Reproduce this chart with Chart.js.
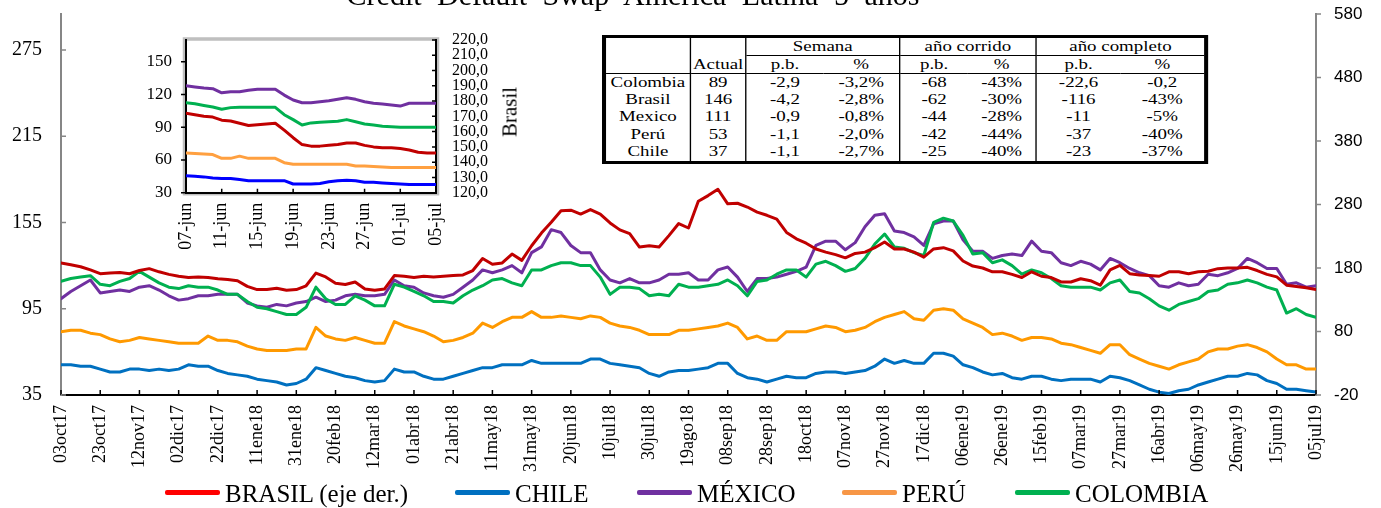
<!DOCTYPE html>
<html>
<head>
<meta charset="utf-8">
<script src="https://cdn.jsdelivr.net/npm/chart.js@4.4.1/dist/chart.umd.min.js"></script>
<style>
  body { margin: 0; width: 1381px; height: 508px; overflow: hidden; background: #fff; position: relative; font-family: 'Liberation Serif', serif; color: #000; }
  canvas { position: absolute; }
  #mainCanvas { left: 0; top: 0; }
  #insetCanvas { left: 130px; top: 30px; }
  .title { position: absolute; left: 0; width: 1266px; top: -20px; line-height: 30px; text-align: center; font-size: 30px; word-spacing: 8px; white-space: nowrap; }
  #brasilLbl { position: absolute; left: 510px; top: 112px; transform: translate(-50%, -50%) rotate(-90deg); font-size: 21px; white-space: nowrap; }
  #tbl { position: absolute; left: 602px; top: 35px; transform: scaleX(1.35); transform-origin: 0 0; border-collapse: separate; border-spacing: 0; border: 3px solid #000; font-size: 14px; table-layout: fixed; width: 449px; background: #fff; }
  #tbl td { padding: 0; text-align: center; white-space: nowrap; line-height: 16px; }
  #tbl tr.hd td { height: 17px; }
  #tbl tr.dt td { height: 17.4px; }
  #tbl .br { border-right: 1px solid #000; }
  #tbl .bb { border-bottom: 1px solid #000; }
  #tbl .bb2 { border-bottom: 1.5px solid #000; }
  #tbl .act { vertical-align: bottom; }
  .leg { position: absolute; top: 480px; height: 28px; line-height: 28px; font-size: 25px; white-space: nowrap; display: flex; align-items: center; }
  .leg span { display: inline-block; width: 55px; height: 5px; margin-right: 5px; border-radius: 2px; position: relative; top: -2px; }
</style>
</head>
<body>

<canvas id="mainCanvas" width="1381" height="508"></canvas>
<canvas id="insetCanvas" width="400" height="230"></canvas>
<div class="title">Credit Default Swap America Latina 5 años</div>
<div id="brasilLbl">Brasil</div>
<table id="tbl"></table>
<div id="legend"></div>

<script>
  // main chart: one value every 5 days, 03oct17 -> 05jul19
  const dayStep = 5;
  const tickDays = [0, 20, 40, 60, 80, 100, 120, 140, 160, 180, 200, 220, 240, 260, 280, 300, 320,
    340, 360, 380, 400, 420, 440, 460, 480, 500, 520, 540, 560, 580, 600, 620, 640];
  const tickLabels = ['03oct17', '23oct17', '12nov17', '02dic17', '22dic17', '11ene18', '31ene18', '20feb18',
    '12mar18', '01abr18', '21abr18', '11may18', '31may18', '20jun18', '10jul18', '30jul18', '19ago18',
    '08sep18', '28sep18', '18oct18', '07nov18', '27nov18', '17dic18', '06ene19', '26ene19', '15feb19',
    '07mar19', '27mar19', '16abr19', '06may19', '26may19', '15jun19', '05jul19'];

  const brasil = [
    188, 185, 182, 177, 171, 172, 173, 171, 176, 179, 174, 170, 167, 165, 166, 165,
    163, 162, 160, 151, 146, 146, 148, 145, 146, 152, 172, 166, 156, 154, 158, 147,
    145, 147, 168, 167, 165, 167, 166, 167, 168, 169, 176, 195, 186, 188, 202, 192,
    215, 235, 252, 270, 271, 265, 272, 265, 251, 240, 234, 213, 215, 213, 231, 250,
    243, 285, 294, 304, 281, 282, 276, 268, 263, 257, 236, 226, 219, 210, 205, 201,
    196, 203, 205, 212, 221, 210, 210, 205, 197, 210, 212, 207, 191, 183, 180, 174,
    174, 170, 165, 174, 167, 165, 158, 158, 163, 160, 153, 177, 184, 171, 169, 168,
    167, 174, 174, 171, 174, 175, 179, 180, 180, 181, 176, 170, 166, 153, 151, 149,
    146];
  const chile = [
    56, 56, 55, 55, 53, 51, 51, 53, 53, 52, 53, 52, 53, 56, 55, 55,
    52, 50, 49, 48, 46, 45, 44, 42, 43, 46, 54, 52, 50, 48, 47, 45,
    44, 45, 53, 51, 51, 48, 46, 46, 48, 50, 52, 54, 54, 56, 56, 56,
    59, 57, 57, 57, 57, 57, 60, 60, 57, 56, 55, 54, 50, 48, 51, 52,
    52, 53, 54, 57, 57, 50, 47, 46, 44, 46, 48, 47, 47, 50, 51, 51,
    50, 51, 52, 55, 60, 57, 59, 57, 57, 64, 64, 62, 56, 54, 51, 49,
    50, 47, 46, 48, 48, 46, 45, 46, 46, 46, 44, 48, 47, 45, 42, 39,
    37, 36, 38, 39, 42, 44, 46, 48, 48, 50, 49, 45, 43, 39, 39, 38,
    37];
  const mexico = [
    102, 107, 111, 115, 106, 107, 108, 107, 110, 111, 108, 104, 101, 102, 104, 104,
    105, 105, 105, 99, 97, 96, 98, 97, 99, 100, 103, 100, 101, 104, 105, 104,
    104, 105, 115, 111, 110, 106, 104, 103, 105, 110, 115, 122, 120, 122, 125, 120,
    134, 138, 150, 148, 139, 134, 134, 122, 115, 113, 116, 113, 113, 115, 119, 119,
    120, 115, 115, 122, 124, 117, 107, 116, 116, 117, 119, 121, 124, 139, 142, 142,
    136, 141, 152, 160, 161, 149, 148, 145, 139, 154, 156, 156, 143, 135, 135, 130,
    132, 133, 132, 142, 135, 134, 127, 125, 128, 126, 122, 130, 127, 123, 120, 118,
    111, 110, 113, 111, 112, 119, 118, 120, 123, 130, 127, 123, 123, 112, 113, 110,
    111];
  const peru = [
    79, 80, 80, 78, 77, 74, 72, 73, 75, 74, 73, 72, 71, 71, 71, 76,
    73, 73, 72, 69, 67, 66, 66, 66, 67, 67, 82, 76, 74, 73, 75, 73,
    71, 71, 86, 83, 81, 79, 76, 72, 73, 75, 78, 85, 82, 86, 89, 89,
    93, 89, 89, 90, 89, 88, 90, 89, 85, 83, 82, 80, 77, 77, 77, 80,
    80, 81, 82, 83, 85, 82, 74, 76, 73, 73, 79, 79, 79, 81, 83, 82,
    79, 80, 82, 86, 89, 91, 93, 88, 87, 94, 95, 94, 88, 85, 82, 77,
    78, 76, 73, 75, 75, 74, 71, 70, 68, 66, 64, 70, 70, 63, 60, 57,
    55, 53, 56, 58, 60, 65, 67, 67, 69, 70, 68, 65, 60, 56, 56, 53,
    53];
  const colombia = [
    114, 116, 117, 118, 112, 111, 114, 116, 121, 117, 113, 110, 109, 111, 110, 110,
    108, 105, 105, 100, 96, 95, 93, 91, 91, 96, 110, 102, 98, 98, 104, 101,
    97, 97, 112, 110, 107, 104, 100, 100, 99, 104, 108, 111, 115, 116, 113, 111,
    122, 122, 125, 127, 127, 125, 125, 117, 105, 110, 110, 109, 104, 105, 104, 112,
    110, 110, 111, 112, 115, 111, 104, 114, 115, 119, 122, 122, 117, 126, 128, 125,
    121, 123, 130, 140, 147, 138, 137, 134, 132, 155, 158, 156, 146, 133, 134, 127,
    129, 125, 119, 122, 120, 116, 111, 110, 110, 110, 108, 113, 115, 107, 106, 102,
    97, 94, 98, 100, 102, 107, 108, 112, 113, 115, 113, 110, 108, 92, 95, 91,
    89];

  const leftTicks = [35, 95, 155, 215, 275];
  const rightTicks = [-20, 80, 180, 280, 380, 480, 580];

  // inset: daily, 07-jun -> 05-jul
  const insetTickDays = [0, 4, 8, 12, 16, 20, 24, 28];
  const insetTickLabels = ['07-jun', '11-jun', '15-jun', '19-jun', '23-jun', '27-jun', '01-jul', '05-jul'];
  const insetBrasil = [172, 171, 170, 169.5, 167.5, 167, 165.5, 164, 164.5, 165, 165.5, 161, 156, 151.5, 150.5,
    150.5, 151, 151.5, 152.5, 152.5, 151, 150, 149.5, 149.5, 149, 148, 146.5, 146, 146];
  const insetChile = [45.5, 45, 44.5, 43.5, 43, 43, 42, 41, 41, 41, 41, 41, 38, 38, 38,
    38.5, 40, 41, 41.5, 41, 39.5, 39.5, 39, 38.5, 38, 37.5, 37.5, 37.5, 37.5];
  const insetMexico = [128, 127, 126, 125.4, 121.6, 122.6, 122.6, 124, 124.8, 124.8, 124.8, 119.5, 115, 112.5, 112.5,
    113.4, 114.3, 115.6, 117, 115.6, 113.4, 112, 111.3, 110.4, 109.4, 112, 112, 112, 112];
  const insetPeru = [66.5, 66, 65.5, 65, 61.5, 61.5, 63.5, 61.5, 61.5, 61.5, 61.5, 57.5, 56, 56, 56,
    56, 56, 56, 56, 54.5, 54.5, 54, 53.5, 53, 53, 53, 53, 53, 53];
  const insetColombia = [112.5, 111.5, 110, 108.5, 106.5, 108, 108.3, 108.3, 108.3, 108.3, 108.3, 101.5, 97, 92, 94,
    94.5, 95, 95.5, 97, 95, 93, 92, 91, 90.5, 90, 90, 90, 90, 90];
  const insetLeftTicks = [30, 60, 90, 120, 150];
  const insetRightTicks = [120, 130, 140, 150, 160, 170, 180, 190, 200, 210, 220];

  const tableHead = ['Semana', 'año corrido', 'año completo'];
  const tableRows = [
    ['Colombia', '89', '-2,9', '-3,2%', '-68', '-43%', '-22,6', '-0,2'],
    ['Brasil', '146', '-4,2', '-2,8%', '-62', '-30%', '-116', '-43%'],
    ['Mexico', '111', '-0,9', '-0,8%', '-44', '-28%', '-11', '-5%'],
    ['Perú', '53', '-1,1', '-2,0%', '-42', '-44%', '-37', '-40%'],
    ['Chile', '37', '-1,1', '-2,7%', '-25', '-40%', '-23', '-37%']
  ];

  const legendItems = [
    ['BRASIL (eje der.)', '#FF0000', 165],
    ['CHILE', '#0070C0', 455],
    ['MÉXICO', '#7030A0', 637],
    ['PERÚ', '#F79646', 842],
    ['COLOMBIA', '#00B050', 1015]
  ];

  Chart.defaults.font.family = "'Liberation Serif', serif";
  Chart.defaults.color = '#000';

  function makeTickMarks(marks) {
    return {
      id: 'tickMarks',
      afterDraw(chart) {
        const ctx = chart.ctx;
        marks.forEach(m => {
          const s = chart.scales[m.scale];
          ctx.save();
          ctx.strokeStyle = m.color;
          ctx.lineWidth = m.width;
          ctx.beginPath();
          s.ticks.forEach(t => {
            const p = s.getPixelForValue(t.value);
            if (s.isHorizontal()) {
              ctx.moveTo(p, s.top);
              ctx.lineTo(p, s.top - m.len);
            } else {
              const x0 = s.position === 'left' ? s.right : s.left;
              ctx.moveTo(x0, p);
              ctx.lineTo(x0 + m.len, p);
            }
          });
          ctx.stroke();
          ctx.restore();
        });
      }
    };
  }

  const insetFrame = {
    id: 'insetFrame',
    beforeDraw(chart) {
      const a = chart.chartArea, ctx = chart.ctx;
      ctx.save();
      ctx.fillStyle = '#fff';
      ctx.fillRect(a.left, a.top, a.right - a.left, a.bottom - a.top);
      ctx.strokeStyle = '#BFBFBF';
      ctx.lineWidth = 3.5;
      ctx.strokeRect(a.left - 1.5, a.top - 1, a.right - a.left + 3, a.bottom - a.top + 2);
      ctx.restore();
    }
  };

  function series(label, values, step, color, axis, order) {
    return {
      label: label,
      data: values.map((v, i) => ({ x: i * step, y: v })),
      borderColor: color,
      borderWidth: 3,
      borderJoinStyle: 'round',
      borderCapStyle: 'round',
      pointRadius: 0,
      tension: 0,
      yAxisID: axis,
      order: order
    };
  }

  function fixedTicks(values) {
    return s => { s.ticks = values.map(v => ({ value: v })); };
  }

  // force the axis box sizes, drop the label overhang padding
  function fitX(h) {
    return s => { s.height = h; s.paddingLeft = 0; s.paddingRight = 0; };
  }
  function fitY(w) {
    return s => { s.width = w; s.paddingTop = 0; s.paddingBottom = 0; };
  }

  new Chart(document.getElementById('mainCanvas'), {
    type: 'line',
    data: {
      datasets: [
        series('BRASIL (eje der.)', brasil, dayStep, '#C00000', 'yR', 0),
        series('CHILE', chile, dayStep, '#0070C0', 'yL', 4),
        series('MÉXICO', mexico, dayStep, '#7030A0', 'yL', 2),
        series('PERÚ', peru, dayStep, '#FF9900', 'yL', 3),
        series('COLOMBIA', colombia, dayStep, '#00B050', 'yL', 1)
      ]
    },
    options: {
      responsive: false,
      animation: false,
      layout: { padding: { top: 14, left: 0, right: 0, bottom: 0 } },
      plugins: { legend: { display: false }, tooltip: { enabled: false } },
      scales: {
        x: {
          type: 'linear', position: 'bottom', min: 0, max: 640,
          afterBuildTicks: fixedTicks(tickDays),
          afterFit: fitX(113),
          grid: { display: false, drawTicks: false },
          border: { display: true, color: '#000', width: 2 },
          ticks: { autoSkip: false, minRotation: 90, maxRotation: 90, padding: 10, font: { size: 18 },
            callback: (v, i) => tickLabels[i] }
        },
        yL: {
          position: 'left', min: 35, max: 300,
          afterBuildTicks: fixedTicks(leftTicks),
          afterFit: fitY(61),
          grid: { display: false, drawTicks: false },
          border: { display: true, color: '#868686', width: 2 },
          ticks: { autoSkip: false, padding: 19, font: { size: 20 } }
        },
        yR: {
          position: 'right', min: -20, max: 580,
          afterBuildTicks: fixedTicks(rightTicks),
          afterFit: fitY(65),
          grid: { display: false, drawTicks: false },
          border: { display: true, color: '#868686', width: 2 },
          ticks: { autoSkip: false, padding: 18, font: { family: "'Liberation Sans', sans-serif", size: 17 } }
        }
      }
    },
    plugins: [makeTickMarks([
      { scale: 'x', len: 5, color: '#000', width: 1.5 },
      { scale: 'yL', len: 5, color: '#868686', width: 1.5 },
      { scale: 'yR', len: 5, color: '#868686', width: 1.5 }
    ])]
  });

  new Chart(document.getElementById('insetCanvas'), {
    type: 'line',
    data: {
      datasets: [
        series('Brasil', insetBrasil, 1, '#C00000', 'yR', 0),
        series('Chile', insetChile, 1, '#0000FF', 'yL', 1),
        series('Mexico', insetMexico, 1, '#7030A0', 'yL', 2),
        series('Perú', insetPeru, 1, '#FFA040', 'yL', 3),
        series('Colombia', insetColombia, 1, '#00B050', 'yL', 4)
      ]
    },
    options: {
      responsive: false,
      animation: false,
      layout: { padding: { top: 10, left: 0, right: 0, bottom: 0 } },
      plugins: { legend: { display: false }, tooltip: { enabled: false } },
      scales: {
        x: {
          type: 'linear', position: 'bottom', min: 0, max: 28,
          afterBuildTicks: fixedTicks(insetTickDays),
          afterFit: fitX(67.3),
          grid: { display: false, drawTicks: false },
          border: { display: true, color: '#000', width: 2 },
          ticks: { autoSkip: false, minRotation: 90, maxRotation: 90, padding: 10, font: { size: 18 },
            callback: (v, i) => insetTickLabels[i] }
        },
        yL: {
          position: 'left', min: 30, max: 170,
          afterBuildTicks: fixedTicks(insetLeftTicks),
          afterFit: fitY(56),
          grid: { display: false, drawTicks: false },
          border: { display: true, color: '#000', width: 2 },
          ticks: { autoSkip: false, padding: 14, font: { size: 17 } }
        },
        yR: {
          position: 'right', min: 120, max: 220,
          afterBuildTicks: fixedTicks(insetRightTicks),
          afterFit: fitY(94),
          grid: { display: false, drawTicks: false },
          border: { display: true, color: '#000', width: 2 },
          ticks: { autoSkip: false, padding: 16, font: { size: 16 },
            callback: v => v.toFixed(1).replace('.', ',') }
        }
      }
    },
    plugins: [insetFrame, makeTickMarks([
      { scale: 'x', len: 4, color: '#000', width: 1.5 },
      { scale: 'yL', len: -5, color: '#000', width: 1.5 },
      { scale: 'yR', len: -4, color: '#000', width: 1.5 }
    ])]
  });

  // table
  const tbl = document.getElementById('tbl');
  let html = '<colgroup><col style="width:63px"><col style="width:41px"><col style="width:57px"><col style="width:57px">' +
    '<col style="width:50px"><col style="width:51px"><col style="width:62px"><col style="width:62px"></colgroup>';
  html += '<tr class="hd"><td rowspan="2" class="br bb2"></td><td rowspan="2" class="br bb2 act">Actual</td>' +
    '<td colspan="2" class="br bb">' + tableHead[0] + '</td><td colspan="2" class="br bb">' + tableHead[1] + '</td>' +
    '<td colspan="2" class="bb">' + tableHead[2] + '</td></tr>';
  html += '<tr class="hd"><td class="bb2">p.b.</td><td class="br bb2">%</td><td class="bb2">p.b.</td>' +
    '<td class="br bb2">%</td><td class="bb2">p.b.</td><td class="bb2">%</td></tr>';
  const rightBorderCols = [0, 1, 3, 5];
  tableRows.forEach(r => {
    html += '<tr class="dt">' + r.map((c, i) =>
      '<td' + (rightBorderCols.includes(i) ? ' class="br"' : '') + '>' + c + '</td>').join('') + '</tr>';
  });
  tbl.innerHTML = html;

  // legend
  const legend = document.getElementById('legend');
  legendItems.forEach(([text, color, left]) => {
    const d = document.createElement('div');
    d.className = 'leg';
    d.style.left = left + 'px';
    d.innerHTML = '<span style="background:' + color + '"></span>' + text;
    legend.appendChild(d);
  });
</script>
</body>
</html>
